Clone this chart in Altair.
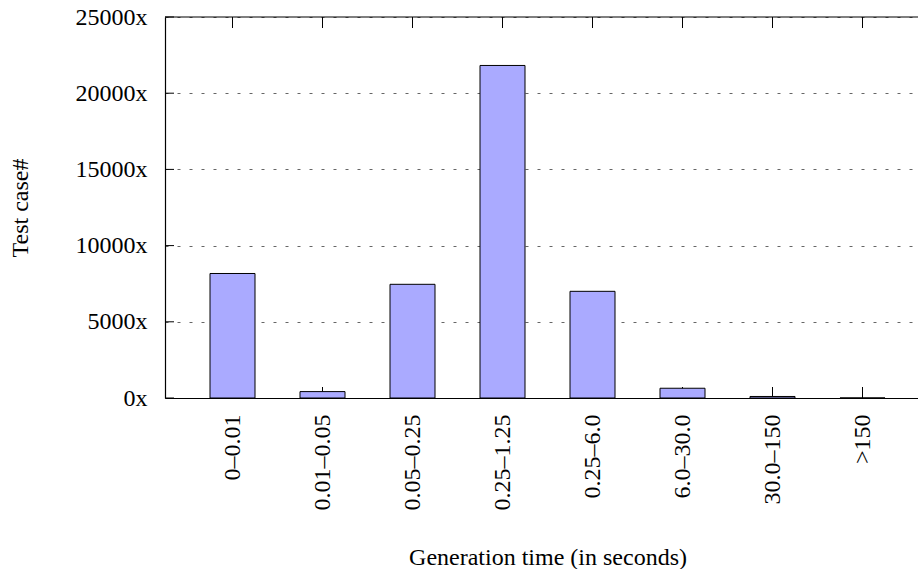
import altair as alt
import pandas as pd

# Histogram of generation times
ranges = ["0–0.01", "0.01–0.05", "0.05–0.25", "0.25–1.25",
          "0.25–6.0", "6.0–30.0", "30.0–150", ">150"]
counts = [8170, 420, 7460, 21820, 7000, 640, 100, 3]
y_ticks = [0, 5000, 10000, 15000, 20000, 25000]

FONT = "Liberation Serif"
PLOT_W = 765   # full x range (right end runs past the page edge)
VIEW_W = 753
PLOT_H = 381

bars_df = pd.DataFrame({"range": ranges, "count": counts})
cats_df = pd.DataFrame({"range": ranges})
yt_df = pd.DataFrame({"count": y_ticks})

x_scale = alt.Scale(domain=ranges, range=[0, PLOT_W],
                    paddingInner=0.5, paddingOuter=0.5)
y_scale = alt.Scale(domain=[0, 25000], nice=False)

x_axis = alt.Axis(
    title="Generation time (in seconds)",
    labelAngle=270, labelAlign="right", labelBaseline="middle",
    labelPadding=16, ticks=False, domain=True, domainColor="black",
    domainWidth=1.2, labelFont=FONT, labelFontSize=24, labelColor="black",
    titleFont=FONT, titleFontSize=24, titleFontWeight="normal",
    titleColor="black", titleX=PLOT_W / 2, titleY=166,
    titleBaseline="alphabetic", titleAlign="center", grid=False,
)
y_axis = alt.Axis(
    title="Test case#", values=y_ticks, labelExpr="datum.value + 'x'",
    labelPadding=18, ticks=False, domain=True, domainColor="black",
    domainWidth=1.2, labelFont=FONT, labelFontSize=24, labelColor="black",
    titleFont=FONT, titleFontSize=24, titleFontWeight="normal",
    titleColor="black", titleX=-145, titleY=PLOT_H / 2, titleAngle=270,
    titleAlign="center", titleBaseline="middle",
    grid=True, gridColor="#666666", gridDash=[3, 9], gridWidth=1,
)

bars = alt.Chart(bars_df).mark_bar(
    fill="#aaaaff", stroke="black", strokeWidth=1
).encode(
    x=alt.X("range:N", scale=x_scale, axis=x_axis, sort=ranges),
    y=alt.Y("count:Q", scale=y_scale, axis=y_axis),
)

# inward ticks on the top and bottom borders
top_ticks = alt.Chart(cats_df).mark_rule(color="black", strokeWidth=1).encode(
    x=alt.X("range:N", sort=ranges),
    y=alt.value(0), y2=alt.value(11),
)
bottom_ticks = alt.Chart(cats_df).mark_rule(color="black", strokeWidth=1).encode(
    x=alt.X("range:N", sort=ranges),
    y=alt.value(PLOT_H - 11), y2=alt.value(PLOT_H),
)
# inward ticks on the left border
left_ticks = alt.Chart(yt_df).mark_rule(color="black", strokeWidth=1).encode(
    y=alt.Y("count:Q"),
    x=alt.value(0), x2=alt.value(9),
)
# top border
top_border = alt.Chart(cats_df.head(1)).mark_rule(
    color="black", strokeWidth=1.2
).encode(x=alt.value(0), x2=alt.value(PLOT_W), y=alt.value(0))

chart = alt.layer(
    top_ticks, bottom_ticks, left_ticks, bars, top_border
).properties(
    width=VIEW_W, height=PLOT_H,
    autosize=alt.AutoSizeParams(type="none"),
    padding={"left": 165, "top": 17, "right": 0, "bottom": 569 - 17 - PLOT_H},
    background="white",
).configure_view(stroke=None)

chart.save("out.html", embed_options={"renderer": "svg", "actions": False})
